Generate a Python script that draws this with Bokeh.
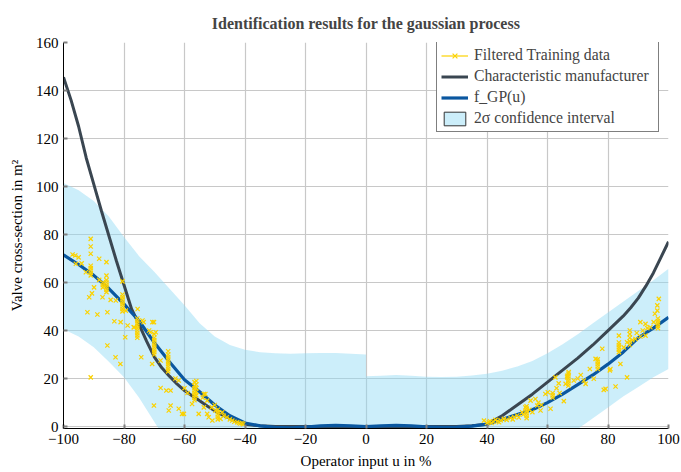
import numpy as np
from bokeh.plotting import figure
from bokeh.models import Range1d, FixedTicker, Legend, LegendItem
from bokeh.embed import file_html
from bokeh.resources import INLINE

# ---------------- data ----------------
x_ticks = [-100, -80, -60, -40, -20, 0, 20, 40, 60, 80, 100]
y_ticks = [0, 20, 40, 60, 80, 100, 120, 140, 160]

band_u = [-100, -95, -90, -85, -80, -75, -70, -65, -60, -55, -50, -45, -40, -35, -30, -25,
          -20, -15, -10, -5, 0, 0, 5, 10, 15, 20, 25, 30, 35, 40, 45, 50, 55, 60, 65, 70,
          75, 80, 85, 90, 95, 100]
band_upper = [101.5, 98.5, 94, 87.5, 79, 71, 64.5, 57.5, 50.5, 43, 37.5, 34, 32, 31, 30.5, 30.3,
              30.5, 30.7, 30.6, 30.3, 30, 21, 21.2, 21.5, 21.2, 20.8, 20.7, 20.8, 21.3, 22, 23.3, 25,
              27.3, 30.5, 34.3, 38.5, 43, 47.5, 52, 56.5, 61, 65.8]
band_lower = [40.5, 37.5, 33, 27, 20.5, 12, 2, -8, -16, -22, -25, -27, -28, -28, -28, -28,
              -28, -28, -28, -28, -28, -28, -28, -28, -28, -28, -28, -28, -28, -27, -25, -22,
              -18, -14, -7, -1, 3.5, 8, 12.5, 16.5, 20.5, 24]

manu_u = [-100, -97.5, -95, -92.5, -90, -87.5, -85, -82.5, -80, -77.5, -75, -72.5, -70, -67.5,
          -65, -62.5, -60, -57.5, -55, -52.5, -50, -47.5, -45, -42.5, -40, -35, -30, -20, -10,
          0, 10, 20, 30, 35, 40, 45, 50, 55, 60, 65, 70, 75, 80, 85, 87.5, 90, 92.5, 95, 97.5, 100]
manu_y = [145.5, 136, 125, 112, 101, 90, 79.5, 69, 59, 49, 42.5, 35.5, 29, 24.5,
          21, 17.8, 15, 12.8, 10.8, 8.6, 6.6, 4.9, 3.4, 2.1, 1, 0.3, 0, 0, 0,
          0, 0, 0, 0, 0.3, 1, 4.5, 9, 13.5, 18.5, 23.5, 28.5, 34, 40, 46, 49.5, 53.5, 58.5, 64,
          70.5, 77]

gp_u = [-100, -95, -90, -85, -80, -75, -70, -65, -60, -55, -50, -45, -40, -35, -30, -25, -20,
        -15, -10, -5, 0, 5, 10, 15, 20, 25, 30, 35, 40, 45, 50, 55, 60, 65, 70, 75, 80, 85,
        90, 95, 100]
gp_y = [71.5, 67.5, 63, 57.5, 51, 44, 35, 27, 19.5, 14.5, 9, 4.5, 1.5, 0.3, -0.3, -0.5, -0.2,
        0.3, 0.5, 0.3, 0, 0.3, 0.5, 0.3, -0.1, -0.3, -0.2, 0.2, 1, 3, 5, 7, 10, 13.5, 17.5, 21.5,
        26, 31, 37, 41, 45.5]

train_u = [-97, -96.1, -95.9, -95, -94, -92.6, -91, -91, -91, -91, -91, -91, -91, -91, -90.6,
           -89.9, -88.2, -88.2, -87, -87, -87, -87.1, -85.8, -85.8, -85.8, -85.8, -85.8, -85.8,
           -85.8, -85.8, -85.5, -85.5, -84.4, -82.7, -81.2, -80.5, -80.5, -80.5, -80.5, -80.5,
           -80.5, -80.5, -80.5, -80.5, -79.6, -79.4, -92.1, -91.5, -88.8, -91, -83.2, -81.1,
           -78.8, -76.6, -76.8, -75.5, -75.6, -75.6, -75.6, -75.6, -75.6, -75.6, -75.6, -75.6,
           -75.6, -73.9, -73.5, -74.3, -71.7, -71.2, -70.6, -70.1, -70, -70, -70, -70, -70, -70,
           -70, -70, -70, -70.7, -69.5, -70.1, -67.9, -67.9, -66, -65.4, -65.4, -65.4, -65.4,
           -65.4, -65.4, -65.4, -65.4, -65.4, -65.2, -64.6, -64.6, -61.9, -61.9, -60.2, -63, -60,
           -59, -57.5, -56.7, -56.7, -56.7, -56.7, -56.7, -56.7, -56.7, -56.7, -56.1, -56.1,
           -56.1, -56.1, -56.1, -55.3, -54, -53.6, -53.1, -52.5, -53.6, -52.5, -52, -50.8, -49.8,
           -49, -49, -49, -49, -49, -48.1, -47, -46, -45, -44.2, -43.5, -42.6, -42, -41.5, -40.9,
           -40.6, -50, -51, -47.5, -82.8, -60.8,
           39, 40, 40.6, 41, 41.5, 42, 42.8, 43.5, 44, 44.5, 45.6, 46.5, 47.8, 48.5, 49, 50, 50.5,
           51.6, 52, 52.7, 53.1, 53.1, 53.1, 53.1, 53.1, 53.1, 54.4, 54, 55, 56, 56.6, 57.7, 57,
           58, 59.3, 60.1, 61, 61.7, 61.7, 61.7, 62.6, 63.7, 63, 64, 65.4, 66, 66.5, 66.5, 66.9,
           66.9, 66.9, 66.9, 66.9, 66.9, 67, 68.7, 70, 72, 72.6, 71, 74, 75.3, 75.9, 76.6, 76.6,
           76.6, 76.6, 76.6, 78.1, 78.6, 79.2, 80.6, 80.8, 82.5, 83.6, 83.6, 83.6, 83.6, 83.6,
           83.6, 84.1, 85.2, 86.3, 86.3, 87.2, 87.2, 87.2, 87.2, 87.2, 88, 89.1, 89.5, 90.7, 90.7,
           91.5, 92.4, 92.4, 93, 94, 95.1, 96.5, 96.5, 96.5, 96.5, 96.5, 96.3, 96.3, 96.8, 95.5]
train_y = [71.7, 71.3, 67.8, 70.5, 68, 64.3, 78.2, 75, 72, 67, 66, 65, 64, 63, 55.5,
           58, 69.9, 61.1, 60, 59, 58, 53.9, 68.5, 62.9, 61, 60, 59, 58,
           57, 56, 47.6, 33.8, 52.8, 52.5, 26.1, 60.5, 55, 54, 53, 52,
           51, 50, 49, 48, 37.2, 48.3, 47.6, 53.9, 46.7, 20.5, 43.9, 43.5,
           42.1, 41.4, 41.4, 49, 45, 44, 43, 42, 41, 40, 39, 38,
           37, 44.2, 43.5, 28.9, 40, 39.3, 43.5, 43.5, 38.5, 37, 36, 35, 34, 33,
           32, 31, 30, 26.1, 39.3, 8.75, 27.5, 16.1, 15, 31.4, 30, 29, 28,
           27, 26, 25, 24, 23, 6.7, 15, 8.75, 19.2, 7.4, 5.3, 20, 16,
           14, 9.4, 18.5, 17, 16, 15, 14, 13, 12, 11, 19, 17.5,
           16, 14.5, 13, 5.3, 12, 13.6, 13.6, 10.8, 8, 5.3, 3.9, 2.5, 6.7,
           7, 6, 5, 4, 3, 3.2, 4.5, 3.9, 3, 2.5, 2, 1.8, 1.5, 1.3, 1.4,
           1.0, 9, 8, 6, 28.9, 5.3,
           2.5, 1.5, 1.8, 2.2, 1.5, 2, 2.8, 2.2, 1.8, 2.6, 3.2, 2.8, 3.6, 3.0, 4, 4.6, 3.8,
           6, 5, 8, 8.5, 7.5, 6.5, 5.5, 4.5, 3.5, 10.8, 7, 6, 11.5, 8.75, 6.7, 10,
           9, 13.6, 14.3, 7.4, 14, 13, 12, 20.5, 18, 16, 14, 10.6, 17.8, 21.2, 20.5, 22,
           21, 20, 19, 18, 17, 22.7, 19.2, 20, 19.2, 17.8, 21.5, 24, 19.9, 28.2, 28, 27,
           26, 25, 24, 32.4, 15.3, 15.7, 23.4, 24, 16.7, 37.9, 35, 34, 33, 32,
           31, 26.1, 33, 20.5, 35.1, 40, 38.5, 37, 35.5, 34, 36, 36.5, 39, 43.5, 37.5,
           40, 42.8, 37.9, 41, 41.4, 43.5, 45, 44, 43, 42, 41, 48.3, 50.5, 53.2, 47]

# ---------------- style ----------------
SERIF = "Liberation Serif"
YELLOW = "#fbd200"
DARK = "#3a4651"
BLUE = "#0a57a0"
BAND = "#8fd9f5"

p = figure(width=681, height=472, output_backend="svg", toolbar_location=None,
           x_range=Range1d(-100, 100), y_range=Range1d(-0.8, 160),
           min_border_left=63, min_border_right=13, min_border_top=42, min_border_bottom=44)

p.title.text = "Identification results for the gaussian process"
p.title.align = "center"
p.title.vertical_align = "top"
p.title.text_font = SERIF
p.title.text_font_style = "bold"
p.title.text_font_size = "16px"
p.title.standoff = 18

p.outline_line_color = None
p.background_fill_color = "white"

p.xaxis.ticker = FixedTicker(ticks=x_ticks)
p.yaxis.ticker = FixedTicker(ticks=y_ticks)
p.xaxis.major_label_overrides = {t: (("\u2212" + str(-t)) if t < 0 else str(t)) for t in x_ticks}
p.xaxis.axis_label = "Operator input u in %"
p.yaxis.axis_label = "Valve cross-section in m\u00b2"
for ax in (p.xaxis, p.yaxis):
    ax.axis_line_color = "black"
    ax.axis_line_width = 1
    ax.major_tick_in = 4
    ax.major_tick_out = 0
    ax.major_tick_line_color = "#808080"
    ax.major_tick_line_width = 2
    ax.minor_tick_line_color = None
    ax.major_label_text_font = SERIF
    ax.major_label_text_font_size = "15px"
    ax.major_label_text_color = "black"
    ax.axis_label_text_font = SERIF
    ax.axis_label_text_font_size = "15px"
    ax.axis_label_text_font_style = "normal"
    ax.axis_label_text_color = "black"
    ax.major_label_standoff = 5
p.xaxis.axis_label_standoff = 6
p.yaxis.axis_label_standoff = 8

p.xgrid.ticker = FixedTicker(ticks=x_ticks)
p.ygrid.ticker = FixedTicker(ticks=y_ticks)
for g in (p.xgrid, p.ygrid):
    g.grid_line_color = "#c8c8c8"
    g.grid_line_width = 1.2

band = p.varea(x=band_u, y1=band_lower, y2=band_upper, fill_color=BAND, fill_alpha=0.45)
manu = p.line(manu_u, manu_y, line_color=DARK, line_width=3)
gp = p.line(gp_u, gp_y, line_color=BLUE, line_width=3.2)
pts = p.scatter(train_u, train_y, marker="x", size=6, line_color=YELLOW, line_width=1.2)

# legend-only proxies
dummy_line = p.line([np.nan], [np.nan], line_color=YELLOW, line_width=1.2)
dummy_band = p.quad(left=[np.nan], right=[np.nan], top=[np.nan], bottom=[np.nan],
                    fill_color=BAND, fill_alpha=0.45, line_color="#333333", line_width=1)

legend = Legend(items=[
    LegendItem(label="Filtered Training data", renderers=[dummy_line, pts]),
    LegendItem(label="Characteristic manufacturer", renderers=[manu]),
    LegendItem(label="f_GP(u)", renderers=[gp]),
    LegendItem(label="2\u03c3 confidence interval", renderers=[dummy_band]),
], location=(373, 296))
legend.margin = 0
legend.padding = 4
legend.spacing = 3
legend.glyph_width = 27
legend.glyph_height = 17
legend.label_height = 17
legend.label_width = 180
legend.label_standoff = 6
legend.label_text_font = SERIF
legend.label_text_font_size = "15.7px"
legend.border_line_color = "black"
legend.border_line_width = 1
legend.background_fill_alpha = 1
p.add_layout(legend)

open("out.html", "w").write(file_html(p, INLINE))
